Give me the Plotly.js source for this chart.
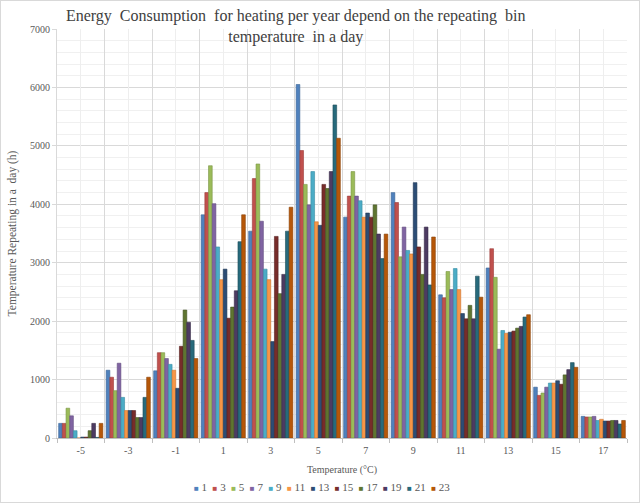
<!DOCTYPE html>
<html>
<head>
<meta charset="utf-8">
<script src="https://cdn.plot.ly/plotly-3.0.1.min.js"></script>
<style>
  body { margin: 0; background: #fff; }
  #chartBox { width: 638px; height: 501px; border: 1px solid #d9d9d9; }
</style>
</head>
<body>
<div id="chartBox"></div>
<script>
// Data

const temps = ["-5", "-3", "-1", "1", "3", "5", "7", "9", "11", "13", "15", "17"];
const hourNames = ["1", "3", "5", "7", "9", "11", "13", "15", "17", "19", "21", "23"];

const h1 = [250, 1160, 1150, 3820, 3540, 6050, 3780, 4200, 2450, 2910, 870, 370];
const h3 = [250, 1040, 1460, 4200, 4440, 4920, 4140, 4030, 2400, 3240, 730, 360];
const h5 = [510, 810, 1460, 4660, 4690, 4340, 4560, 3100, 2850, 2750, 770, 360];
const h7 = [380, 1280, 1360, 4010, 3710, 3990, 4140, 3610, 2540, 1520, 870, 370];
const h9 = [125, 695, 1260, 3270, 2890, 4560, 4060, 3210, 2900, 1840, 940, 300];
const h11 = [0, 470, 1160, 2710, 2710, 3700, 3780, 3150, 2540, 1790, 940, 320];
const h13 = [15, 470, 850, 2890, 1650, 3640, 3850, 4370, 2130, 1810, 980, 290];
const h15 = [15, 470, 1570, 2050, 3450, 4340, 3780, 3270, 2040, 1830, 920, 290];
const h17 = [125, 350, 2190, 2240, 2470, 4270, 3990, 2800, 2270, 1880, 1080, 300];
const h19 = [250, 350, 1980, 2520, 2800, 4560, 3490, 3610, 2040, 1910, 1170, 300];
const h21 = [10, 695, 1670, 3360, 3540, 5700, 3070, 2620, 2770, 2070, 1290, 240];
const h23 = [250, 1040, 1360, 3820, 3950, 5130, 3490, 3440, 2410, 2110, 1210, 300];

const hourValues = [h1, h3, h5, h7, h9, h11, h13, h15, h17, h19, h21, h23];

// excel 2010 palette + darker variants
const barColors = [
  "#4f81bd", "#c0504d", "#9bbb59", "#8064a2", "#4bacc6", "#f79646",
  "#2c4d75", "#772c2a", "#5f7530", "#4d3b62", "#276a7c", "#b65708",
];
const edgeColors = [
  "#3a6496", "#9c3c3a", "#7a9544", "#634d80", "#358ba2", "#d07530",
  "#1f3754", "#561f1e", "#435322", "#362a46", "#1b4b58", "#8a4106",
];

const fontName = "Liberation Serif, Times New Roman, serif";

// Traces

const traces = hourValues.map((vals, i) => ({
  type: "bar",
  name: hourNames[i],
  x: temps,
  y: vals,
  marker: {
    color: barColors[i],
    line: { color: edgeColors[i], width: 0.6 },
  },
  hoverinfo: "none",
}));

// empty trace so the centre gridlines (xaxis2) get drawn
traces.push({
  type: "scatter",
  mode: "markers",
  x: temps,
  y: temps.map(() => null),
  xaxis: "x2",
  yaxis: "y",
  showlegend: false,
  hoverinfo: "none",
});

// plotly's own legend is too wide for one row here, so build a compact
// one as a single line of text from the same names / colours
const nbsp = "\u00a0";
const legendText = hourNames
  .map(
    (name, i) =>
      `<span style="color:${barColors[i]};font-size:8px">■</span>${nbsp}${name}`
  )
  .join(nbsp + nbsp);

const layout = {
  width: 638,
  height: 501,
  paper_bgcolor: "#ffffff",
  plot_bgcolor: "#ffffff",
  font: { family: fontName, color: "#595959", size: 10 },
  title: {
    text: "Energy  Consumption  for heating per year depend on the repeating  bin<br>temperature  in a day",
    font: { family: fontName, size: 16, color: "#404040" },
    xref: "container",
    x: 0.462,
    xanchor: "center",
    yref: "container",
    y: 0.96,
    yanchor: "top",
  },
  barmode: "group",
  bargap: 0.07,
  bargroupgap: 0,
  margin: { l: 56, r: 12, t: 28, b: 64 },
  showlegend: false,
  xaxis: {
    type: "category",
    categoryorder: "array",
    categoryarray: temps,
    range: [-0.5, 11.5],
    tickson: "boundaries",
    ticks: "outside",
    ticklen: 4,
    tickcolor: "#bfbfbf",
    ticklabelstandoff: 3,
    showline: true,
    linecolor: "#bfbfbf",
    showgrid: true,
    gridcolor: "#d9d9d9",
    tickfont: { family: fontName, size: 10, color: "#595959" },
    title: {
      text: "Temperature (°C)",
      font: { family: fontName, size: 10, color: "#595959" },
      standoff: 10,
    },
  },
  xaxis2: {
    type: "category",
    categoryorder: "array",
    categoryarray: temps,
    range: [-0.5, 11.5],
    overlaying: "x",
    side: "top",
    showgrid: true,
    gridcolor: "#eeeeee",
    showticklabels: false,
    ticks: "",
    showline: false,
    zeroline: false,
  },
  yaxis: {
    range: [0, 7000],
    dtick: 1000,
    ticks: "outside",
    ticklen: 4,
    tickcolor: "#d9d9d9",
    showline: true,
    linecolor: "#d9d9d9",
    showgrid: true,
    gridcolor: "#d9d9d9",
    zeroline: false,
    minor: { dtick: 200, showgrid: true, gridcolor: "#f0f0f0", ticks: "" },
    tickfont: { family: fontName, size: 10, color: "#595959" },
    title: {
      text: "Temperature Repeating in a  day (h)",
      font: { family: fontName, size: 11.5, color: "#595959" },
      standoff: 10,
    },
  },
  annotations: [
    {
      text: legendText,
      xref: "paper",
      yref: "paper",
      x: 0.465,
      y: -0.12,
      xanchor: "center",
      yanchor: "middle",
      showarrow: false,
      font: { family: fontName, size: 11, color: "#595959" },
    },
  ],
};

Plotly.newPlot("chartBox", traces, layout, {
  displayModeBar: false,
  staticPlot: true,
});
</script>
</body>
</html>
